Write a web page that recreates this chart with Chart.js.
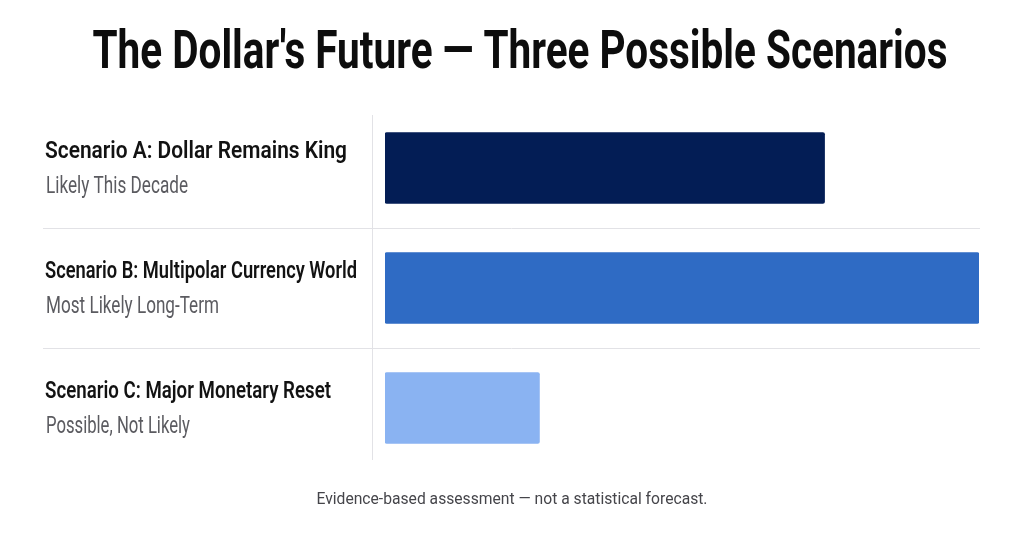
<!DOCTYPE html>
<html><head><meta charset="utf-8">
<script src="https://cdn.jsdelivr.net/npm/chart.js@4.4.0/dist/chart.umd.min.js"></script>
<style>html,body{margin:0;padding:0;background:#fff;}#wrap{width:1024px;height:536px;}</style>
</head><body><div id="wrap"><canvas id="c" width="1024" height="536"></canvas></div>
<script>
const titleText = "The Dollar's Future — Three Possible Scenarios";
const footnote = "Evidence-based assessment — not a statistical forecast.";
const scenarios = ["Scenario A: Dollar Remains King", "Scenario B: Multipolar Currency World", "Scenario C: Major Monetary Reset"];
const outlooks = ["Likely This Decade", "Most Likely Long-Term", "Possible, Not Likely"];
const likelihood = [74, 100, 26];
const barColors = ["#031d55", "#2f6bc4", "#8ab3f2"];

function drawCondensed(ctx, text, x, y, font, color, sx, align) {
  ctx.save();
  ctx.font = font;
  ctx.fillStyle = color;
  ctx.textBaseline = 'alphabetic';
  ctx.textAlign = 'left';
  const w = ctx.measureText(text).width * sx;
  let left = x;
  if (align === 'center') left = x - w / 2;
  ctx.translate(left, y);
  ctx.scale(sx, 1);
  ctx.fillText(text, 0, 0);
  ctx.restore();
}
function fitFactor(ctx, text, font, target) {
  ctx.save(); ctx.font = font;
  const f = target / ctx.measureText(text).width;
  ctx.restore();
  return Math.min(1, f);
}

// rendered text widths of the condensed typeface (layout only)
const labelFit = [302, 312, 286];
const outlookFit = [142, 173, 144];

const decor = {
  id: 'decor',
  beforeDatasetsDraw(chart) {
    const ctx = chart.ctx, y = chart.scales.y, area = chart.chartArea;
    ctx.save();
    ctx.strokeStyle = '#e2e2e6';
    ctx.lineWidth = 1;
    for (let i = 0; i < scenarios.length - 1; i++) {
      const py = Math.round((y.getPixelForValue(i) + y.getPixelForValue(i + 1)) / 2) + 0.5;
      ctx.beginPath(); ctx.moveTo(43, py); ctx.lineTo(area.right + 1, py); ctx.stroke();
    }
    ctx.beginPath(); ctx.moveTo(372.5, area.top + 7); ctx.lineTo(372.5, area.bottom - 8); ctx.stroke();
    ctx.restore();
  },
  afterDraw(chart) {
    const ctx = chart.ctx, y = chart.scales.y;
    const tFont = 'bold 54px Roboto, "DejaVu Sans", sans-serif';
    drawCondensed(ctx, titleText, 520, 68, tFont, '#0d0d0d', fitFactor(ctx, titleText, tFont, 855), 'center');
    const bFont = '600 24px Roboto, "DejaVu Sans", sans-serif';
    const sFont = '23px Roboto, "DejaVu Sans", sans-serif';
    scenarios.forEach((s, i) => {
      const cy = y.getPixelForValue(i);
      drawCondensed(ctx, s, 45, cy - 10, bFont, '#121212', fitFactor(ctx, s, bFont, labelFit[i]), 'left');
      drawCondensed(ctx, outlooks[i], 46, cy + 25, sFont, '#5b5b60', fitFactor(ctx, outlooks[i], sFont, outlookFit[i]), 'left');
    });
    const fFont = '16.5px Roboto, "DejaVu Sans", sans-serif';
    drawCondensed(ctx, footnote, 512, 504, fFont, '#45454a', fitFactor(ctx, footnote, fFont, 391), 'center');
  }
};

new Chart(document.getElementById('c'), {
  type: 'bar',
  data: {
    labels: scenarios,
    datasets: [{ data: likelihood, backgroundColor: barColors, borderRadius: 2, borderSkipped: false, barThickness: 71 }]
  },
  options: {
    indexAxis: 'y',
    responsive: false,
    devicePixelRatio: 1,
    animation: false,
    layout: { padding: { left: 385, right: 45, top: 108, bottom: 68 } },
    scales: {
      x: { display: false, min: 0, max: 100 },
      y: { display: false }
    },
    plugins: { legend: { display: false }, tooltip: { enabled: false }, title: { display: false } }
  },
  plugins: [decor]
});
</script></body></html>
